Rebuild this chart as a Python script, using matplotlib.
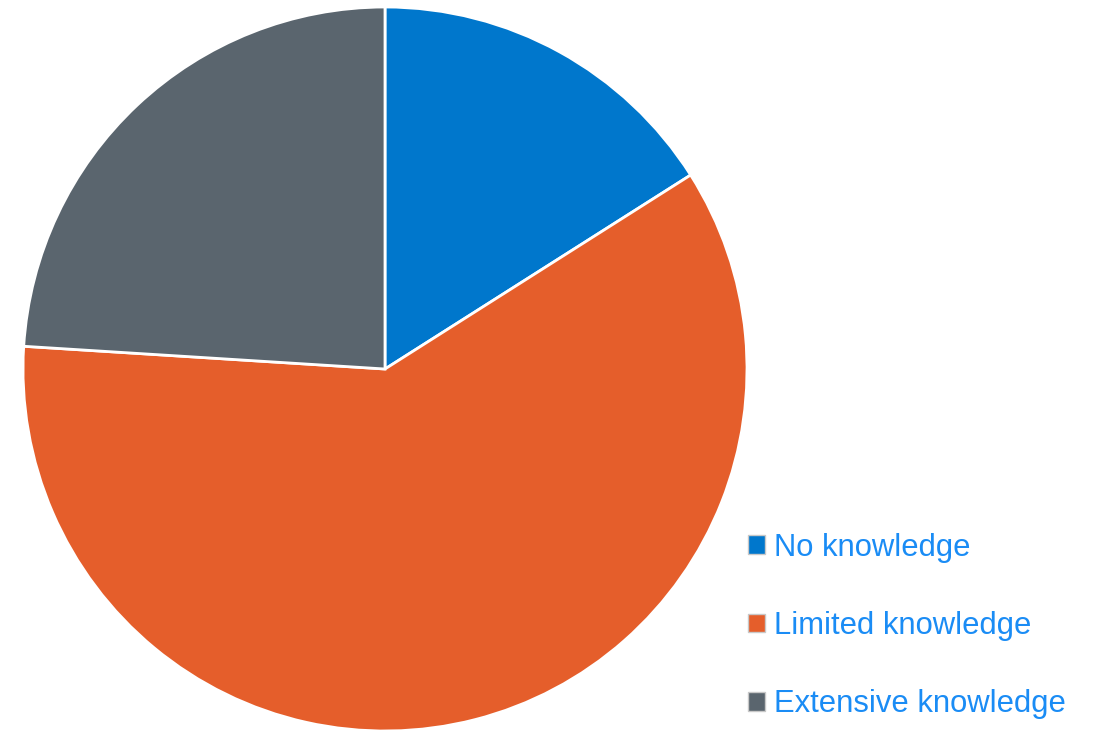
import matplotlib.pyplot as plt
from matplotlib.patches import Patch

labels = ['No knowledge', 'Limited knowledge', 'Extensive knowledge']
shares = [16, 60, 24]
colors = ['#0077cc', '#e55e2b', '#5a656e']


def main():
    plt.rcParams['font.family'] = ['Liberation Sans', 'DejaVu Sans']
    fig = plt.figure(figsize=(10.94, 7.32), dpi=100)
    ax = fig.add_axes([0, 0, 1, 1])
    ax.pie(shares, colors=colors, startangle=90, counterclock=False,
           center=(385, 363), radius=362, frame=True,
           wedgeprops=dict(edgecolor='white', linewidth=2))
    ax.set_xlim(0, 1094)
    ax.set_ylim(0, 732)
    ax.set_aspect('equal')
    ax.axis('off')

    handles = [Patch(facecolor=c, edgecolor='#c8c8c8', linewidth=1) for c in colors]
    leg = ax.legend(handles, labels, loc='center left',
                    bbox_to_anchor=(748 / 1094, 1 - 626 / 732),
                    frameon=False, fontsize=22.3, handlelength=0.55,
                    handleheight=0.55, handletextpad=0.3, labelspacing=1.56,
                    borderpad=0, borderaxespad=0)
    for t in leg.get_texts():
        t.set_color('#1a8cf5')

    fig.savefig('out.png', dpi=100)


if __name__ == '__main__':
    main()
